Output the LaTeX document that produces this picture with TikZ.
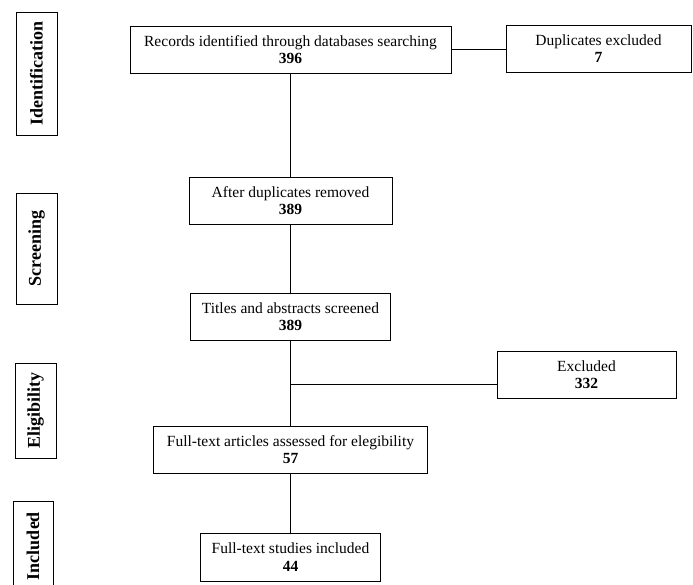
\documentclass[tikz,border=0pt]{standalone}
\usepackage{fontspec}
\setmainfont{Liberation Serif}
\begin{document}
\begin{tikzpicture}[x=1pt,y=-1pt,line width=.8pt,
  every node/.style={font=\fontsize{15.5}{17.5}\selectfont,inner sep=0pt},
  box/.style={draw,align=center},
  phase/.style={draw,rotate=90,font=\fontsize{18}{20}\selectfont\bfseries}]
  \clip (0,0) rectangle (693,585);
  \node[phase,minimum width=123pt,minimum height=41pt] (ident) at (36.5,73.5) {Identification};
  \node[phase,minimum width=111pt,minimum height=41pt] (screen) at (36.5,248.5) {Screening};
  \node[phase,minimum width=95pt,minimum height=41pt] (elig) at (35.5,410.5) {Eligibility};
  \node[phase,minimum width=90pt,minimum height=40pt] (incl) at (33,546) {Included};
  \node[box,minimum width=321pt,minimum height=47pt] (records) at (290.5,49.5) {Records identified through databases searching\\\textbf{396}};
  \node[box,minimum width=185pt,minimum height=47pt] (dupl) at (598.5,48.5) {Duplicates excluded\\\textbf{7}};
  \node[box,minimum width=203pt,minimum height=47pt] (after) at (290.5,200.5) {After duplicates removed\\\textbf{389}};
  \node[box,minimum width=200pt,minimum height=47pt] (titles) at (290.5,316.5) {Titles and abstracts screened\\\textbf{389}};
  \node[box,minimum width=179pt,minimum height=47pt] (excl) at (586.5,374.5) {Excluded\\\textbf{332}};
  \node[box,minimum width=274pt,minimum height=47pt] (fulltext) at (290.5,449.5) {Full-text articles assessed for elegibility\\\textbf{57}};
  \node[box,minimum width=180pt,minimum height=48pt] (studies) at (290.5,557) {Full-text studies included\\\textbf{44}};
  \coordinate (split) at (290.5,384);
  \draw (records) -- (after) -- (titles) -- (fulltext) -- (studies);
  \draw (records.east) -- (records.east -| dupl.west);
  \draw (split) -- (split -| excl.west);
\end{tikzpicture}
\end{document}
